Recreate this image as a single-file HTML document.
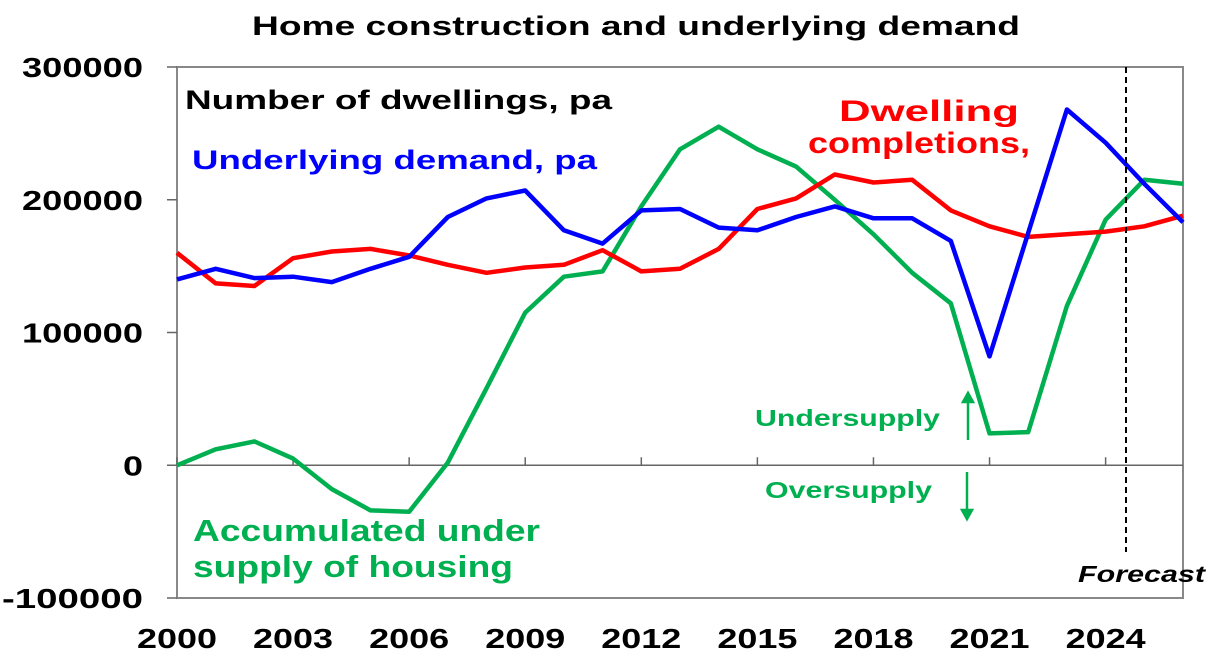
<!DOCTYPE html>
<html><head><meta charset="utf-8"><style>
body{margin:0;background:#fff;}
svg{display:block;font-family:"Liberation Sans",Arial,sans-serif;font-weight:bold;}
</style></head><body>
<svg id="chart" width="1214" height="666" viewBox="0 0 1214 666">
<text x="252" y="35" font-size="27" textLength="768" lengthAdjust="spacingAndGlyphs">Home construction and underlying demand</text>
<g id="axes"></g>
<g id="series"></g>
<text x="185" y="109" font-size="27" fill="#000" textLength="427" lengthAdjust="spacingAndGlyphs">Number of dwellings, pa</text>
<text x="192" y="169" font-size="27" fill="#0000ff" textLength="405" lengthAdjust="spacingAndGlyphs">Underlying demand, pa</text>
<text font-size="30" fill="#ff0000"><tspan x="839" y="121" textLength="180" lengthAdjust="spacingAndGlyphs">Dwelling</tspan><tspan x="808" y="153" textLength="222" lengthAdjust="spacingAndGlyphs">completions,</tspan></text>
<text font-size="31" fill="#00b050"><tspan x="193" y="541" textLength="347" lengthAdjust="spacingAndGlyphs">Accumulated under</tspan><tspan x="193" y="577" textLength="320" lengthAdjust="spacingAndGlyphs">supply of housing</tspan></text>
<text x="755" y="426" font-size="23" fill="#00b050" textLength="185" lengthAdjust="spacingAndGlyphs">Undersupply</text>
<text x="765" y="498" font-size="23" fill="#00b050" textLength="167" lengthAdjust="spacingAndGlyphs">Oversupply</text>
<g stroke="#00b050" fill="#00b050" stroke-width="2.5"><line x1="968" y1="440" x2="968" y2="400"/><path d="M963,402 L968,393 L973,402Z"/></g>
<g stroke="#00b050" fill="#00b050" stroke-width="2.5"><line x1="967" y1="472" x2="967" y2="512"/><path d="M962,510 L967,519 L972,510Z"/></g>
<line x1="1126" y1="67" x2="1126" y2="552" stroke="#000" stroke-width="2" stroke-dasharray="6,4"/>
<text x="1078" y="582" font-size="23" font-style="italic" fill="#000" textLength="127" lengthAdjust="spacingAndGlyphs">Forecast</text>
</svg>
<script>
const years=[2000,2001,2002,2003,2004,2005,2006,2007,2008,2009,2010,2011,2012,2013,2014,2015,2016,2017,2018,2019,2020,2021,2022,2023,2024,2025,2026];
const demand=[140,148,141,142,138,148,157,187,201,207,177,167,192,193,179,177,187,195,186,186,169,82,175,268,243,212,183];
const completions=[160,137,135,156,161,163,158,151,145,149,151,162,146,148,163,193,201,219,213,215,192,180,172,174,176,180,188];
const undersupply=[0,12,18,5,-18,-34,-35,2,58,115,142,146,195,238,255,238,225,200,174,145,122,24,25,120,185,215,212];
const yTicks=[300000,200000,100000,0,-100000];
const xTicks=[2000,2003,2006,2009,2012,2015,2018,2021,2024];
const L=177,R=1183,T=67,B=598;
const xS=y=>L+(y-2000)/(2026-2000)*(R-L);
const yS=v=>B-(v+100000)/400000*(B-T);
const NS="http://www.w3.org/2000/svg";
const ax=document.getElementById('axes'),se=document.getElementById('series');
function mk(tag,attrs,parent){const e=document.createElementNS(NS,tag);for(const k in attrs)e.setAttribute(k,attrs[k]);parent.appendChild(e);return e;}
const frame=mk('rect',{x:L,y:T,width:R-L,height:B-T,fill:'none',stroke:'#888','stroke-width':2},ax);


const zl=mk('line',{x1:L,x2:R,y1:yS(0),y2:yS(0),stroke:'#666','stroke-width':1.5},ax);


yTicks.forEach(v=>{
  mk('line',{x1:L-10,x2:L,y1:yS(v),y2:yS(v),stroke:'#666','stroke-width':1.5},ax);
  const s=String(v);
  const t=mk('text',{x:143,y:yS(v)+10,'text-anchor':'end','font-size':28,textLength:(s.length*20.2).toFixed(0),lengthAdjust:'spacingAndGlyphs'},ax);
  t.textContent=s;
  
  
});
xTicks.forEach(y=>{
  mk('line',{x1:xS(y),x2:xS(y),y1:yS(0),y2:yS(0)-8,stroke:'#666','stroke-width':1.5},ax);
  const t=mk('text',{x:xS(y),y:648,'text-anchor':'middle','font-size':28,textLength:80,lengthAdjust:'spacingAndGlyphs'},ax);
  t.textContent=y;
  
  
});
function line(vals,color,name){
  const d=vals.map((v,i)=>(i?'L':'M')+xS(years[i]).toFixed(1)+','+yS(v*1000).toFixed(1)).join(' ');
  const p=mk('path',{d:d,fill:'none',stroke:color,'stroke-width':4.5,'stroke-linejoin':'round'},se);
  
  
}
line(undersupply,'#00b050','accumulated-undersupply-line');
line(completions,'#ff0000','dwelling-completions-line');
line(demand,'#0000ff','underlying-demand-line');
</script>
</body></html>
